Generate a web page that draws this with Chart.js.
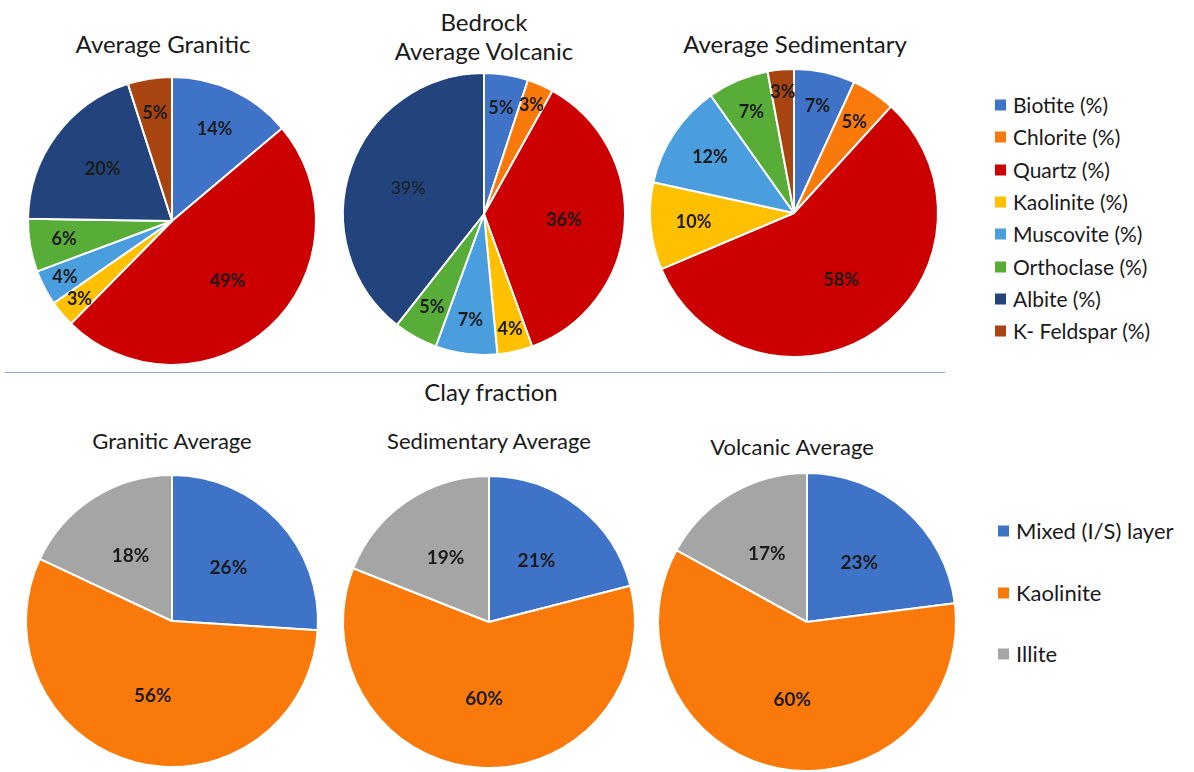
<!DOCTYPE html>
<html>
<head>
<meta charset="utf-8">
<script src="https://cdn.jsdelivr.net/npm/chart.js@4.4.1/dist/chart.umd.min.js"></script>
<style>
  body { margin: 0; width: 1194px; height: 772px; background: #fff; position: relative; overflow: hidden;
         font-family: Lato, "Open Sans", sans-serif; color: #1a1a1a; }
  canvas.pie { position: absolute; }
  .title { position: absolute; transform: translate(-50%, -50%); white-space: nowrap; text-align: center; line-height: 29px; }
  .rule { position: absolute; left: 5px; top: 372px; width: 940px; height: 0; border-top: 1.5px solid #8EA9DB; }
  .legend { position: absolute; font-size: 21px; }
  .legend div { position: absolute; white-space: nowrap; transform: translateY(-50%); }
  .legend span { display: inline-block; width: 11px; height: 11px; margin-right: 7px; vertical-align: 2px; }
</style>
</head>
<body>
<div class="title" style="left:163px; top:43px; font-size:24px;">Average Granitic</div>
<div class="title" style="left:484px; top:36px; font-size:24px;">Bedrock<br>Average Volcanic</div>
<div class="title" style="left:795px; top:43px; font-size:24px;">Average Sedimentary</div>
<div class="rule"></div>
<div class="title" style="left:491px; top:391px; font-size:24px;">Clay fraction</div>
<div class="title" style="left:172px; top:440px; font-size:22px;">Granitic Average</div>
<div class="title" style="left:489px; top:440px; font-size:22px;">Sedimentary Average</div>
<div class="title" style="left:792px; top:446px; font-size:22px;">Volcanic Average</div>

<canvas class="pie" id="pieGranitic" width="320" height="320"></canvas>
<canvas class="pie" id="pieVolcanic" width="320" height="320"></canvas>
<canvas class="pie" id="pieSedimentary" width="320" height="320"></canvas>
<canvas class="pie" id="clayGranitic" width="320" height="320"></canvas>
<canvas class="pie" id="claySedimentary" width="320" height="320"></canvas>
<canvas class="pie" id="clayVolcanic" width="320" height="320"></canvas>

<div class="legend" id="legendMinerals" style="left:995px; top:0;"></div>
<div class="legend" id="legendClay" style="left:998px; top:0; font-size:22px;"></div>

<script>
// bedrock minerals (%)
const minerals = ["Biotite (%)", "Chlorite (%)", "Quartz (%)", "Kaolinite (%)", "Muscovite (%)", "Orthoclase (%)", "Albite (%)", "K- Feldspar (%)"];
const granitic = [14, 0, 49, 3, 4, 6, 20, 5];
const volcanic = [5, 3, 36, 4, 7, 5, 39, 0];
const sedimentary = [7, 5, 58, 10, 12, 7, 0, 3];

// clay fraction (%)
const clayTypes = ["Mixed (I/S) layer", "Kaolinite", "Illite"];
const clayGraniticAvg = [26, 56, 18];
const claySedimentaryAvg = [21, 60, 19];
const clayVolcanicAvg = [23, 60, 17];

const mineralColors = ["#3F73C8", "#F97A0A", "#CC0000", "#FFC000", "#4A9EDD", "#58AC38", "#22437C", "#A84410"];
const clayColors = ["#3F73C8", "#F97A0A", "#A5A5A5"];

// draws "n%" inside each slice
const sliceLabels = {
  id: "sliceLabels",
  afterDatasetsDraw(chart, args, opts) {
    const ctx = chart.ctx;
    const values = chart.data.datasets[0].data;
    ctx.save();
    ctx.textAlign = "center";
    ctx.textBaseline = "middle";
    ctx.fillStyle = "#1b1b1b";
    chart.getDatasetMeta(0).data.forEach((arc, i) => {
      const v = values[i];
      if (!v) return;
      const p = arc.getProps(["x", "y", "startAngle", "endAngle", "outerRadius"], true);
      const mid = (p.startAngle + p.endAngle) / 2;
      let f = 0.6;
      for (const [min, frac] of opts.fractions) {
        if (v >= min) { f = frac; break; }
      }
      const weight = (opts.light || []).includes(i) ? "normal" : "bold";
      ctx.font = weight + " " + opts.size + "px Lato";
      ctx.fillText(v + "%", p.x + Math.cos(mid) * p.outerRadius * f, p.y + Math.sin(mid) * p.outerRadius * f);
    });
    ctx.restore();
  }
};

function makePie(id, cx, cy, r, labels, values, colors, labelOpts) {
  const el = document.getElementById(id);
  el.style.left = (cx - 160) + "px";
  el.style.top = (cy - 160) + "px";
  new Chart(el.getContext("2d"), {
    type: "pie",
    data: {
      labels: labels,
      datasets: [{
        data: values,
        backgroundColor: colors,
        borderColor: "#ffffff",
        borderWidth: 2,
      }],
    },
    options: {
      responsive: false,
      animation: false,
      radius: r,
      layout: { padding: 0 },
      plugins: {
        legend: { display: false },
        tooltip: { enabled: false },
        sliceLabels: labelOpts,
      },
    },
    plugins: [sliceLabels],
  });
}

const topLabels = { size: 18, fractions: [[30, 0.57], [15, 0.6], [10, 0.7], [5, 0.76], [0, 0.84]] };
const clayLabels = { size: 19, fractions: [[0, 0.53]] };

makePie("pieGranitic", 172, 221, 144, minerals, granitic, mineralColors, topLabels);
makePie("pieVolcanic", 484, 214, 141, minerals, volcanic, mineralColors, Object.assign({ light: [6] }, topLabels));
makePie("pieSedimentary", 794, 213, 144, minerals, sedimentary, mineralColors, topLabels);
makePie("clayGranitic", 172, 621, 146, clayTypes, clayGraniticAvg, clayColors, clayLabels);
makePie("claySedimentary", 489, 622, 146, clayTypes, claySedimentaryAvg, clayColors, clayLabels);
makePie("clayVolcanic", 807, 622, 149, clayTypes, clayVolcanicAvg, clayColors, clayLabels);

// html legends
function buildLegend(id, labels, colors, top, step) {
  const box = document.getElementById(id);
  labels.forEach((name, i) => {
    const row = document.createElement("div");
    row.style.top = (top + i * step) + "px";
    row.innerHTML = '<span style="background:' + colors[i] + '"></span>' + name;
    box.appendChild(row);
  });
}
buildLegend("legendMinerals", minerals, mineralColors, 104, 32.3);
buildLegend("legendClay", clayTypes, clayColors, 530, 61.5);
</script>
</body>
</html>
